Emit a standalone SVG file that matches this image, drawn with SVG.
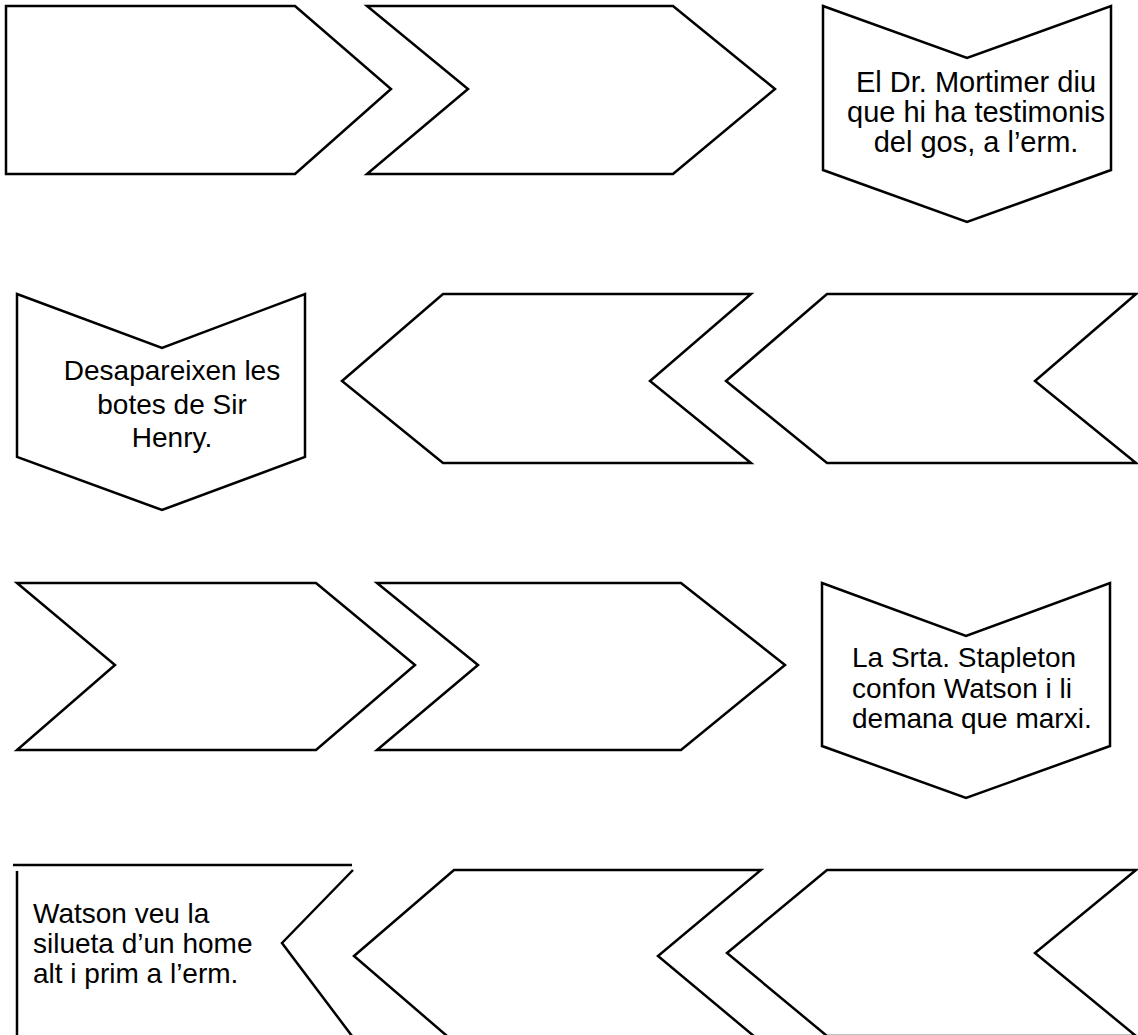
<svg xmlns="http://www.w3.org/2000/svg" width="1138" height="1035" viewBox="0 0 1138 1035">
<style>
.s{fill:#fff;stroke:#000;stroke-width:2.5;stroke-linejoin:miter}
.l{fill:none;stroke:#000;stroke-width:2.5}
.t{font-family:"Liberation Sans",Arial,sans-serif;font-size:28px;fill:#000}
.m{text-anchor:middle}
</style>
<rect width="1138" height="1035" fill="#fff"/>
<g id="n1"><polygon class="s" points="6,6 295,6 391,89 295,174 6,174"/></g>
<g id="n2"><polygon class="s" points="367,6 673,6 775,89 673,174 367,174 468,89"/></g>
<g id="n3"><polygon class="s" points="823,6 967,58 1111,6 1111,170 967,222 823,170"/>
<text class="t m" style="font-size:29px"><tspan x="976" y="92">El Dr. Mortimer diu</tspan><tspan x="976" y="122">que hi ha testimonis</tspan><tspan x="976" y="152">del gos, a l’erm.</tspan></text></g>
<g id="n4"><polygon class="s" points="17,294 162,348 305,294 305,457 162,510 17,457"/>
<text class="t m"><tspan x="172" y="380">Desapareixen les</tspan><tspan x="172" y="414">botes de Sir</tspan><tspan x="172" y="447">Henry.</tspan></text></g>
<g id="n5"><polygon class="s" points="342,381 443,294 751,294 650,381 751,463 443,463"/></g>
<g id="n6"><polygon class="s" points="726,381 827,294 1136,294 1035,381 1136,463 827,463"/></g>
<g id="n7"><polygon class="s" points="17,583 316,583 415,665 316,750 17,750 115,665"/></g>
<g id="n8"><polygon class="s" points="377,583 681,583 785,665 681,750 377,750 478,665"/></g>
<g id="n9"><polygon class="s" points="822,583 966,636 1110,583 1110,746 966,798 822,746"/>
<text class="t"><tspan x="852" y="667">La Srta. Stapleton</tspan><tspan x="852" y="698">confon Watson i li</tspan><tspan x="852" y="728">demana que marxi.</tspan></text></g>
<g id="n10"><path class="l" d="M13,865 H352 M17,871 V1036 M353,870 L282,943 L352,1036"/>
<text class="t"><tspan x="33" y="923">Watson veu la</tspan><tspan x="33" y="953">silueta d’un home</tspan><tspan x="33" y="983">alt i prim a l’erm.</tspan></text></g>
<g id="n11"><polygon class="s" points="354,956 454,870 761,870 658,956 761,1042 454,1042"/></g>
<g id="n12"><polygon class="s" points="727,953 827,870 1136,870 1035,953 1136,1036 827,1036"/></g>
<g id="connectors"></g>
</svg>
